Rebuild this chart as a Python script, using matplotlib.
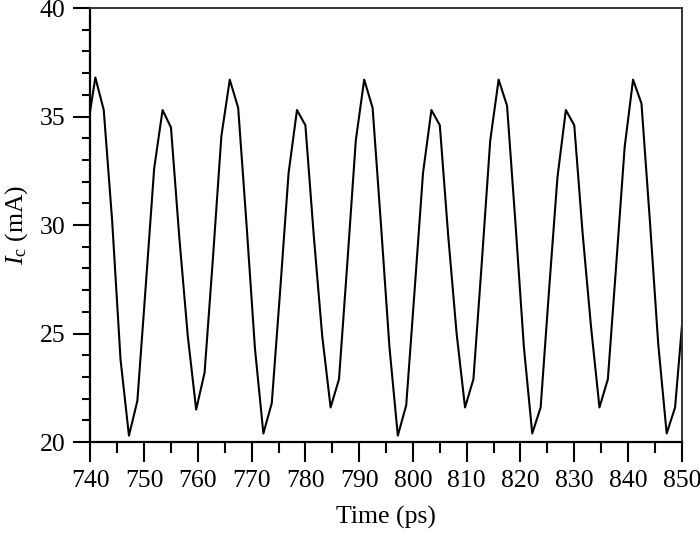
import numpy as np
import matplotlib
matplotlib.use("Agg")
import matplotlib.pyplot as plt
from matplotlib.ticker import MultipleLocator

# sampling grid of the simulation (ps)
t_first = 739.375
t_step = 1.5625

# collector current Ic (mA), one value per sample
ic_values = [
    34.3,
    36.8, 35.3, 30.2, 23.8, 20.3, 21.9, 27.2, 32.6, 35.3, 34.5, 29.4, 24.9, 21.5, 23.2, 28.5, 34.1,
    36.7, 35.4, 30.0, 24.3, 20.4, 21.8, 27.0, 32.4, 35.3, 34.6, 29.5, 24.9, 21.6, 22.9, 28.3, 33.9,
    36.7, 35.4, 30.0, 24.4, 20.3, 21.7, 27.0, 32.4, 35.3, 34.6, 29.5, 25.0, 21.6, 22.9, 28.3, 33.9,
    36.7, 35.5, 30.1, 24.4, 20.4, 21.6, 27.0, 32.2, 35.3, 34.6, 29.6, 25.3, 21.6, 22.9, 28.2, 33.6,
    36.7, 35.6, 30.2, 24.5, 20.4, 21.6, 26.2,
]

time_ps = t_first + t_step * np.arange(len(ic_values))

plt.rcParams["font.family"] = ["Liberation Serif", "DejaVu Serif"]
plt.rcParams["mathtext.fontset"] = "custom"
plt.rcParams["mathtext.rm"] = "Liberation Serif"
plt.rcParams["mathtext.it"] = "Liberation Serif:italic"

fig = plt.figure(figsize=(7.0, 5.34), dpi=100)
ax = fig.add_axes([0.129, 0.172, 0.845, 0.813])

ax.plot(time_ps, ic_values, color="black", lw=1.5)

ax.set_xlim(740, 850)
ax.set_ylim(20, 40)
ax.xaxis.set_major_locator(MultipleLocator(10))
ax.xaxis.set_minor_locator(MultipleLocator(5))
ax.yaxis.set_major_locator(MultipleLocator(5))
ax.yaxis.set_minor_locator(MultipleLocator(1))

ax.tick_params(axis="x", which="major", direction="out", length=14.4, width=1.5,
               labelsize=18.5, pad=6)
ax.tick_params(axis="x", which="minor", direction="out", length=8, width=1.5)
ax.tick_params(axis="y", which="major", direction="out", length=12, width=1.5,
               labelsize=18.5, pad=6)
ax.tick_params(axis="y", which="minor", direction="out", length=6, width=1.5)
ax.tick_params(top=False, right=False, which="both")

for side in ["left", "bottom"]:
    ax.spines[side].set_linewidth(1.6)
    ax.spines[side].set_color("black")
for side in ["top", "right"]:
    ax.spines[side].set_linewidth(1.4)
    ax.spines[side].set_color("#333333")

ax.set_xlabel("Time (ps)", fontsize=18.5, labelpad=10)
ax.set_ylabel(r"$I_\mathrm{c}$ (mA)", fontsize=18.5, labelpad=7)

fig.savefig("out.png", dpi=100)
